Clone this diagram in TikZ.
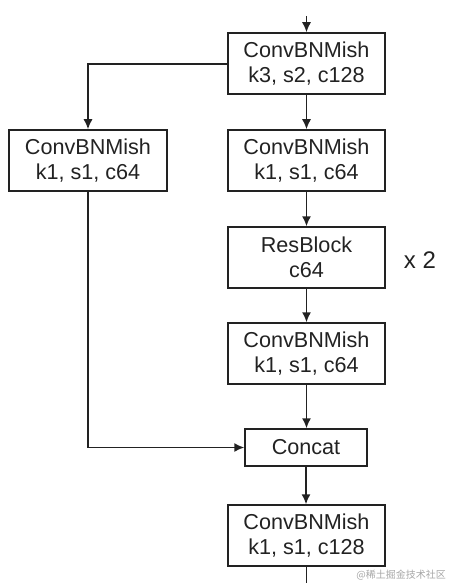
\documentclass[tikz,border=0pt]{standalone}
\usepackage{fontspec}
\setmainfont{Liberation Sans}
\newfontfamily\cjk{Noto Sans CJK SC}
\usetikzlibrary{arrows.meta}
\definecolor{ink}{HTML}{222222}
\begin{document}
\begin{tikzpicture}[x=1pt,y=-1pt,
  blk/.style={draw=ink,line width=1.5pt,text=ink,minimum width=157pt,minimum height=61pt,inner sep=0pt,align=center,font=\fontsize{21.6}{25}\selectfont},
  conn/.style={draw=ink,line width=1.5pt,-{Latex[length=10pt,width=9pt]}},
  plain/.style={draw=ink,line width=1.5pt}]
\useasboundingbox (0,0) rectangle (448,583);
\node[blk] (b1) at (306.5,63.5) {ConvBNMish\\k3, s2, c128};
\node[blk,minimum width=158pt] (bl) at (88,160.5) {ConvBNMish\\k1, s1, c64};
\node[blk] (b2) at (306.5,160.5) {ConvBNMish\\k1, s1, c64};
\node[blk] (rb) at (306.5,257.5) {ResBlock\\c64};
\node[blk] (b3) at (306.5,353.5) {ConvBNMish\\k1, s1, c64};
\node[blk,minimum width=122pt,minimum height=37pt] (cat) at (306,447.5) {Concat};
\node[blk] (b4) at (306.5,535.5) {ConvBNMish\\k1, s1, c128};
\node[text=ink,font=\fontsize{24}{28}\selectfont,inner sep=0pt] (x2) at (420,260) {x 2};
\node[text=black!35,font=\cjk\fontsize{10}{11}\selectfont,inner sep=0pt,anchor=east] (wm) at (446,575) {@稀土掘金技术社区};
\coordinate (in) at (306.5,16);
\coordinate (out) at (306.5,583);
\draw[conn] (in) -- (b1.north);
\draw[conn] (b1.west |- 0,64) -| (bl.north);
\draw[conn] (b1) -- (b2);
\draw[conn] (b2) -- (rb);
\draw[conn] (rb) -- (b3);
\draw[conn] (b3.south) -- (b3.south |- cat.north);
\draw[conn] (bl.south) |- (cat.west);
\draw[conn] (cat.south) -- (cat.south |- b4.north);
\draw[plain] (b4.south) -- (out);
\end{tikzpicture}
\end{document}
